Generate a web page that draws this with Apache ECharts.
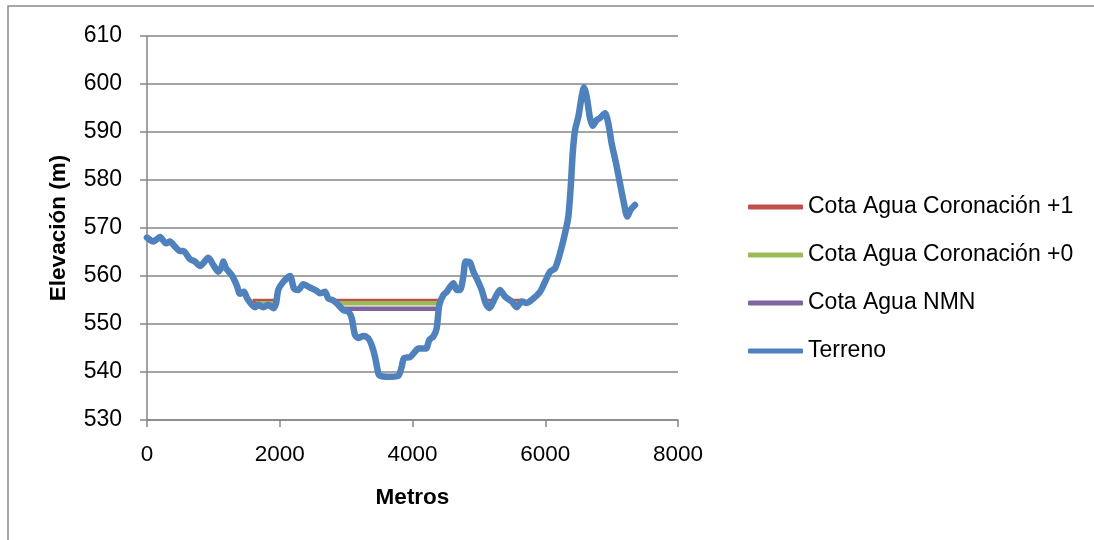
<!DOCTYPE html>
<html>
<head>
<meta charset="utf-8">
<script src="https://cdn.jsdelivr.net/npm/echarts@6/dist/echarts.min.js"></script>
<style>html,body{margin:0;padding:0;background:#fff;}#c{width:1094px;height:540px;}</style>
</head>
<body>
<div id="c"></div>
<script>
// ---- data ----
const terrenoX = [0,95,196,286,346,422,497,547,648,723,799,924,999,1074,1125,1150,1190,1276,1351,1401,1461,1511,1627,1677,1752,1828,1903,1944,1978,2054,2154,2215,2280,2355,2456,2556,2606,2682,2732,2807,2882,2958,3033,3084,3134,3184,3259,3334,3385,3435,3485,3510,3611,3786,3837,3872,3962,4037,4087,4203,4253,4314,4364,4404,4464,4515,4615,4666,4716,4766,4801,4866,4917,4967,5042,5103,5155,5243,5318,5394,5494,5570,5645,5721,5821,5921,5997,6072,6147,6222,6298,6348,6384,6414,6449,6499,6549,6584,6624,6674,6715,6775,6825,6900,6950,7001,7066,7126,7176,7237,7287,7352];
const terrenoY = [568.0,567.2,568.1,566.8,567.2,566.1,565.2,565.2,563.5,563.0,562.1,563.8,562.3,560.9,561.9,563.0,561.6,560.2,558.1,556.3,556.7,555.3,553.5,554.0,553.5,554.0,553.3,554.3,557.1,558.8,560.0,557.4,557.1,558.3,557.6,556.9,556.4,556.7,555.3,554.9,554.0,552.9,552.6,551.2,547.7,547.1,547.5,547.0,545.6,543.2,539.7,539.2,539.0,539.2,541.1,542.9,543.1,544.2,544.9,544.9,546.7,547.4,549.1,554.0,556.0,556.7,558.5,557.1,557.1,559.9,563.0,562.8,560.9,559.5,557.1,554.3,553.3,555.4,557.1,555.7,554.7,553.5,554.7,554.4,555.3,556.7,558.8,560.9,561.6,564.7,568.9,572.4,578.6,585.6,590.4,593.2,597.4,599.3,597.4,592.9,591.3,592.5,592.9,593.9,591.8,587.6,583.5,579.3,575.8,572.4,573.8,574.8];

const corona1Level = 554.8;
const corona1X = [1592,1930,null,2800,4445,null,5115,5195,null,5500,5670];
const corona0Level = 554.3;
const corona0X = [1640,1920,null,2878,4414,null,5130,5185,null,5545,5600];
const nmnLevel = 553.2;
const nmnX = [2945,4390];

const seriesNames = ['Cota Agua Coronación +1','Cota Agua Coronación +0','Cota Agua NMN','Terreno'];
const colors = ['#C0504D','#9BBB59','#8064A2','#4F81BD'];
const xTicks = {min:0,max:8000,interval:2000};
const yTicks = {min:530,max:610,interval:10};

function levelSeries(xs, level){
  return xs.map(x => x === null ? '-' : [x, level]);
}
const terrenoData = terrenoX.map((x,i)=>[x,terrenoY[i]]);

const chart = echarts.init(document.getElementById('c'));
const font = 'Liberation Sans, Arial, sans-serif';
chart.setOption({
  animation:false,
  backgroundColor:'#fff',
  graphic:[{type:'rect',shape:{x:8,y:6,width:1200,height:700},style:{fill:'none',stroke:'#8a8a8a',lineWidth:1.5},silent:true}],
  grid:{left:147,right:416,top:36,bottom:120},
  legend:{
    orient:'vertical',left:743,top:190,itemGap:24,itemWidth:55,itemHeight:5,icon:'roundRect',
    textStyle:{fontFamily:font,fontSize:23,color:'#000',lineHeight:24},
    data:seriesNames
  },
  xAxis:{type:'value',min:xTicks.min,max:xTicks.max,interval:xTicks.interval,
    name:'Metros',nameLocation:'middle',nameGap:66,
    nameTextStyle:{fontFamily:font,fontSize:22.5,fontWeight:'bold',color:'#000'},
    axisLine:{show:true,lineStyle:{color:'#868686',width:1.5}},
    axisTick:{show:true,length:7,lineStyle:{color:'#868686',width:1.5}},
    axisLabel:{fontFamily:font,fontSize:22.5,color:'#000',margin:23,formatter:v=>String(v)},
    splitLine:{show:false}},
  yAxis:{type:'value',min:yTicks.min,max:yTicks.max,interval:yTicks.interval,
    name:'Elevación (m)',nameLocation:'middle',nameGap:77,nameRotate:90,
    nameTextStyle:{fontFamily:font,fontSize:22.5,fontWeight:'bold',color:'#000'},
    axisLine:{show:true,lineStyle:{color:'#868686',width:1.5}},
    axisTick:{show:true,length:7,lineStyle:{color:'#868686',width:1.5}},
    axisLabel:{fontFamily:font,fontSize:23,color:'#000',margin:25},
    splitLine:{show:true,lineStyle:{color:'#868686',width:1.5}}},
  series:[
    {name:seriesNames[0],type:'line',data:levelSeries(corona1X,corona1Level),showSymbol:false,symbol:'none',connectNulls:false,
     lineStyle:{color:colors[0],width:4.5},itemStyle:{color:colors[0]}},
    {name:seriesNames[1],type:'line',data:levelSeries(corona0X,corona0Level),showSymbol:false,symbol:'none',connectNulls:false,
     lineStyle:{color:colors[1],width:4.5},itemStyle:{color:colors[1]}},
    {name:seriesNames[2],type:'line',data:levelSeries(nmnX,nmnLevel),showSymbol:false,symbol:'none',
     lineStyle:{color:colors[2],width:4.5},itemStyle:{color:colors[2]}},
    {name:seriesNames[3],type:'line',data:terrenoData,showSymbol:false,symbol:'none',smooth:0.25,
     lineStyle:{color:colors[3],width:6.5,cap:'round',join:'round'},itemStyle:{color:colors[3]}}
  ]
});
</script>
</body>
</html>
